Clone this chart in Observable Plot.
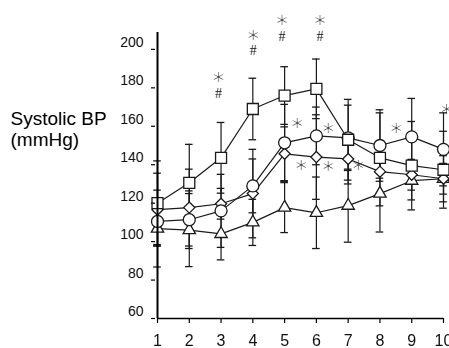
<!DOCTYPE html>
<html>
<head>
<meta charset="utf-8">
<script src="https://cdn.jsdelivr.net/npm/d3@7"></script>
<script src="https://cdn.jsdelivr.net/npm/@observablehq/plot@0.6"></script>
<style>
  html, body { margin: 0; padding: 0; background: #fff; }
  #chart svg { display: block; filter: grayscale(1); }
</style>
</head>
<body>
<div id="chart"></div>
<script>
const days = [1, 2, 3, 4, 5, 6, 7, 8, 9, 10];
const yTicks = [60, 80, 100, 120, 140, 160, 180, 200];
const yTop = 208.8;

const squareMean   = [120, 130.6, 143.6, 169, 176, 179.5, 153, 143.6, 139.5, 137.4];
const squareSD     = [22, 20, 18.4, 16, 15, 15.5, 21, 25, 23, 20];
const circleMean   = [110.5, 111.4, 116, 129, 151.4, 155, 154, 150, 154.5, 148];
const circleSD     = [12, 15, 19, 14, 20, 15, 17, 17, 20, 19];
const diamondMean  = [116.6, 117.7, 119.7, 125, 145.7, 144, 143, 136.4, 134.8, 132.7];
const diamondSD    = [19, 20, 8, 23, 14, 22, 13, 5, 8, 8];
const triangleMean = [106.8, 106, 104, 110, 117.7, 115, 118.7, 125, 131.7, 132.7];
const triangleSD   = [20, 19, 13.5, 12, 13, 18.6, 19, 20, 10, 12];

// significance annotations
const starX = [2.92, 4.01, 4.92, 6.11, 5.40, 6.37, 8.51, 10.1, 5.52, 6.37, 7.32];
const starY = [186.5, 208.8, 216.6, 216.6, 163, 160, 160.4, 170.3, 140.7, 140.2, 140.7];
const hashX = [2.92, 4.01, 4.92, 6.11];
const hashY = [177.1, 199.5, 206.8, 206.8];

const yLabel = "Systolic BP\n(mmHg)";

const seriesDefs = [
  {name: "triangle", mean: triangleMean, sd: triangleSD, symbol: "triangle", r: 4.6},
  {name: "diamond", mean: diamondMean, sd: diamondSD, symbol: "diamond2", r: 5},
  {name: "circle", mean: circleMean, sd: circleSD, symbol: "circle", r: 6},
  {name: "square", mean: squareMean, sd: squareSD, symbol: "square", r: 6.2}
];

const capHalf = 0.12;
const ink = "#1a1a1a";

const marks = [];
for (const s of seriesDefs) {
  const rows = days.map((d, i) => ({x: d, m: s.mean[i], sd: s.sd[i]}));
  marks.push(Plot.ruleX(rows, {x: "x", y1: d => d.m - d.sd, y2: d => d.m + d.sd, stroke: ink, strokeWidth: 1.2}));
  marks.push(Plot.ruleY(rows, {y: d => d.m + d.sd, x1: d => d.x - capHalf, x2: d => d.x + capHalf, stroke: ink, strokeWidth: 1.3}));
  marks.push(Plot.ruleY(rows, {y: d => d.m - d.sd, x1: d => d.x - capHalf, x2: d => d.x + capHalf, stroke: ink, strokeWidth: 1.3}));
}
for (const s of seriesDefs) {
  const rows = days.map((d, i) => ({x: d, m: s.mean[i]}));
  marks.push(Plot.line(rows, {x: "x", y: "m", stroke: ink, strokeWidth: 1.2}));
  marks.push(Plot.dot(rows, {x: "x", y: "m", symbol: () => s.symbol, r: s.r, fill: "white", stroke: ink, strokeWidth: 1.3}));
}

const chart = Plot.plot({
  width: 449,
  height: 348,
  marginLeft: 157,
  marginRight: 6,
  marginTop: 32,
  marginBottom: 30,
  style: {fontFamily: "'Liberation Sans', Arial, sans-serif", background: "white", overflow: "visible"},
  x: {domain: [days[0], days[days.length - 1]]},
  y: {domain: [yTicks[0], yTop]},
  symbol: {type: "identity"},
  marks: [
    ...marks,
    Plot.ruleX([days[0]], {stroke: "#000", strokeWidth: 2}),
    Plot.ruleY([yTicks[0]], {stroke: "#000", strokeWidth: 1.5}),
    Plot.axisY({ticks: yTicks, tickSize: 4, dx: -2, fill: "none", stroke: "#000", strokeWidth: 1.2, label: null}),
    Plot.axisY({ticks: yTicks, tickSize: 0, tickPadding: 14, dy: -7, fontSize: 14, fill: "#111", label: null}),
    Plot.axisX({ticks: days, tickSize: 5, tickPadding: 11, fontSize: 16, fill: "#111", stroke: "#000", strokeWidth: 1.2, label: null}),
    Plot.text(starX.map((x, i) => ({x, y: starY[i]})), {x: "x", y: "y", text: () => "*", fontSize: 22, dy: 6, fill: "#1a1a1a", fontFamily: "'DejaVu Sans'", fontWeight: 200}),
    Plot.text(hashX.map((x, i) => ({x, y: hashY[i]})), {x: "x", y: "y", text: () => "#", fontSize: 14, fill: "#1a1a1a", fontFamily: "'Liberation Serif', serif"}),
    Plot.text([yLabel], {frameAnchor: "left", dx: -147, dy: -47, textAnchor: "start", fontSize: 19, lineHeight: 1.1, fill: "#000"})
  ]
});
document.getElementById("chart").appendChild(chart);
</script>
</body>
</html>
